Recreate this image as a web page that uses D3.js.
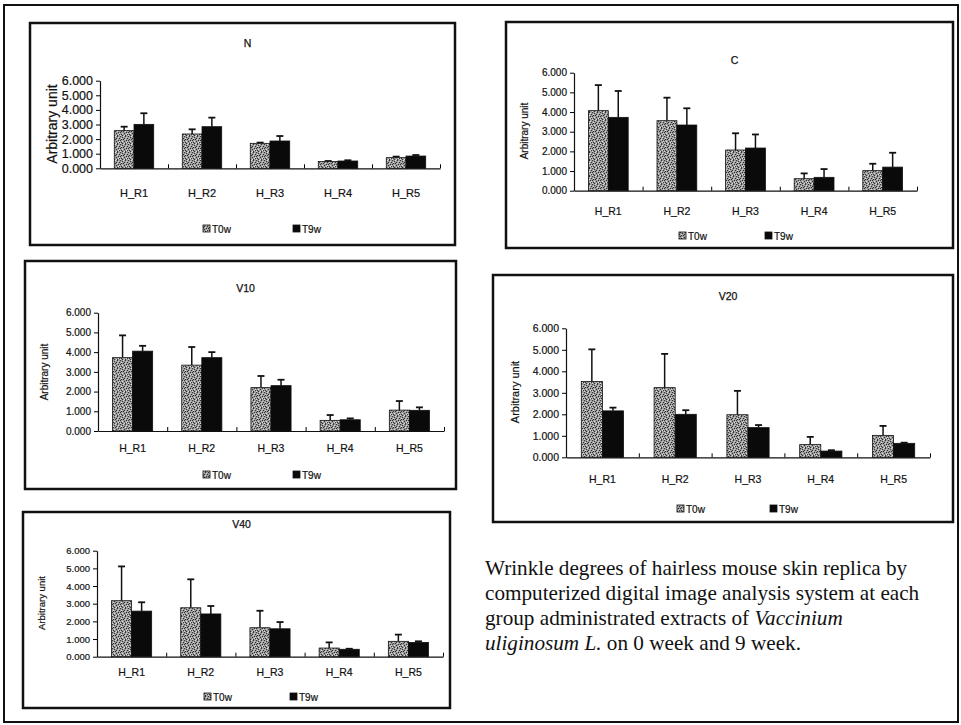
<!DOCTYPE html>
<html>
<head>
<meta charset="utf-8">
<script src="https://cdn.jsdelivr.net/npm/d3@7"></script>
<style>
  body { margin: 0; background: #fff; }
  svg text { font-family: "Liberation Sans", Arial, sans-serif; fill: #111; }
</style>
</head>
<body>
<svg id="fig"></svg>
<script>
// categories and series
var categories = ["H_R1", "H_R2", "H_R3", "H_R4", "H_R5"];
var series = ["T0w", "T9w"];
var yTicks = [0, 1, 2, 3, 4, 5, 6];

// mean values and SD
var nT0 = [2.58, 2.35, 1.71, 0.46, 0.73],   nT0Sd = [0.27, 0.32, 0.05, 0.04, 0.07];
var nT9 = [3.01, 2.85, 1.87, 0.50, 0.84],   nT9Sd = [0.76, 0.62, 0.34, 0.05, 0.07];
var cT0 = [4.07, 3.56, 2.07, 0.61, 1.02],   cT0Sd = [1.30, 1.17, 0.85, 0.27, 0.35];
var cT9 = [3.73, 3.34, 2.17, 0.68, 1.20],   cT9Sd = [1.34, 0.85, 0.69, 0.42, 0.73];
var v10T0 = [3.72, 3.34, 2.20, 0.54, 1.06], v10T0Sd = [1.13, 0.92, 0.59, 0.27, 0.46];
var v10T9 = [4.05, 3.72, 2.30, 0.57, 1.05], v10T9Sd = [0.27, 0.28, 0.30, 0.07, 0.15];
var v20T0 = [3.53, 3.24, 1.98, 0.59, 1.02], v20T0Sd = [1.49, 1.57, 1.11, 0.36, 0.44];
var v20T9 = [2.16, 2.00, 1.38, 0.29, 0.65], v20T9Sd = [0.15, 0.19, 0.12, 0.04, 0.03];
var v40T0 = [3.17, 2.77, 1.64, 0.49, 0.87], v40T0Sd = [1.94, 1.61, 0.96, 0.32, 0.38];
var v40T9 = [2.58, 2.42, 1.58, 0.42, 0.81], v40T9Sd = [0.50, 0.45, 0.38, 0.03, 0.06];

var captionLines = [
  [{t: "Wrinkle degrees of hairless mouse skin replica by"}],
  [{t: "computerized digital image analysis system at each"}],
  [{t: "group administrated extracts of "}, {t: "Vaccinium", i: true}],
  [{t: "uliginosum L.", i: true}, {t: " on 0 week and 9 week."}]
];

var W = 961, H = 725;
var svg = d3.select("#fig").attr("width", W).attr("height", H);

// speckled fill for T0w
var pat = svg.append("defs").append("pattern")
    .attr("id", "stip").attr("width", 8).attr("height", 8)
    .attr("patternUnits", "userSpaceOnUse");
pat.append("rect").attr("width", 8).attr("height", 8).attr("fill", "#9c9c9c");
var darkDots = [[0,0],[5,0],[2,1],[7,2],[4,2],[3,3],[0,4],[6,4],[4,5],[1,6],[7,6],[2,7],[5,7],[1,3]];
var lightDots = [[3,0],[6,1],[1,2],[5,3],[2,5],[7,5],[0,7],[4,7],[6,6]];
darkDots.forEach(function(p) {
  pat.append("rect").attr("x", p[0]).attr("y", p[1]).attr("width", 1).attr("height", 1).attr("fill", "#333");
});
lightDots.forEach(function(p) {
  pat.append("rect").attr("x", p[0]).attr("y", p[1]).attr("width", 1).attr("height", 1).attr("fill", "#d8d8d8");
});

// outer frame
svg.append("rect").attr("x", 4).attr("y", 5).attr("width", 954).attr("height", 717)
   .attr("fill", "none").attr("stroke", "#111").attr("stroke-width", 2);

// panel layout
var panels = [
  {title: "N", t0: nT0, t0sd: nT0Sd, t9: nT9, t9sd: nT9Sd,
   box: [30, 23, 455, 245], px: [100, 440], py: [80.7, 168.3], titleY: 47,
   ytX: 57, ytY: 124, ytSize: 14, tickSize: 12.5, catY: 197, catSize: 11, legY: 229, legX: [203, 293]},
  {title: "C", t0: cT0, t0sd: cT0Sd, t9: cT9, t9sd: cT9Sd,
   box: [506, 22, 953, 248], px: [574, 917], py: [72.7, 190.7], titleY: 64,
   ytX: 528, ytY: 131, ytSize: 10, tickSize: 10, catY: 215, catSize: 10.5, legY: 236, legX: [679, 765]},
  {title: "V10", t0: v10T0, t0sd: v10T0Sd, t9: v10T9, t9sd: v10T9Sd,
   box: [25, 261, 456, 489], px: [98, 444], py: [312.7, 431], titleY: 292,
   ytX: 48, ytY: 372, ytSize: 10, tickSize: 10, catY: 452, catSize: 10.5, legY: 475, legX: [203, 293]},
  {title: "V20", t0: v20T0, t0sd: v20T0Sd, t9: v20T9, t9sd: v20T9Sd,
   box: [493, 275, 953, 522], px: [566, 930], py: [328.3, 457.3], titleY: 300,
   ytX: 519, ytY: 392, ytSize: 11, tickSize: 10.5, catY: 483, catSize: 10.5, legY: 509, legX: [677, 770]},
  {title: "V40", t0: v40T0, t0sd: v40T0Sd, t9: v40T9, t9sd: v40T9Sd,
   box: [23, 512, 450, 708], px: [97, 443], py: [550.7, 656.7], titleY: 528,
   ytX: 45, ytY: 603, ytSize: 9.5, tickSize: 9.5, catY: 676, catSize: 10.5, legY: 697, legX: [204, 290]}
];

panels.forEach(drawPanel);

function drawPanel(p) {
  var g = svg.append("g");
  var b = p.box;
  g.append("rect").attr("x", b[0]).attr("y", b[1])
    .attr("width", b[2] - b[0]).attr("height", b[3] - b[1])
    .attr("fill", "#fff").attr("stroke", "#111").attr("stroke-width", 2.5);

  g.append("text").attr("x", (b[0] + b[2]) / 2 + 5).attr("y", p.titleY)
    .attr("text-anchor", "middle").attr("font-size", 10.5)
    .attr("stroke", "#111").attr("stroke-width", 0.25).text(p.title);

  var x = d3.scaleBand().domain(categories).range(p.px)
      .paddingInner(0.42).paddingOuter(0.21);
  var xs = d3.scaleBand().domain(series).range([0, x.bandwidth()]);
  var y = d3.scaleLinear().domain([0, 6]).range([p.py[1], p.py[0]]);

  // y axis
  var yAxis = d3.axisLeft(y).tickValues(yTicks).tickFormat(d3.format(".3f"))
      .tickSize(4).tickSizeOuter(0).tickPadding(3);
  var ya = g.append("g").attr("transform", "translate(" + p.px[0] + ",0)").call(yAxis);
  ya.selectAll("text").attr("font-size", p.tickSize)
    .attr("stroke", "#111").attr("stroke-width", 0.2)
    .style("font-family", "Liberation Sans Narrow, Liberation Sans, Arial");
  ya.select(".domain").attr("stroke", "#111").attr("stroke-width", 1.2);

  // x axis: ticks at band boundaries
  var xl = d3.scaleLinear().domain([0, categories.length]).range(p.px);
  var xAxis = d3.axisBottom(xl).tickValues([1, 2, 3, 4, 5]).tickFormat("")
      .tickSize(-4).tickSizeOuter(0);
  var xa = g.append("g").attr("transform", "translate(0," + p.py[1] + ")").call(xAxis);
  xa.select(".domain").attr("stroke", "#111").attr("stroke-width", 1.2);

  // category labels
  g.selectAll(".cat").data(categories).enter().append("text")
    .attr("x", function(d) { return x(d) + x.bandwidth() / 2; })
    .attr("y", p.catY).attr("text-anchor", "middle")
    .attr("font-size", p.catSize)
    .attr("stroke", "#111").attr("stroke-width", 0.2)
    .style("font-family", "Liberation Sans Narrow, Liberation Sans, Arial")
    .text(function(d) { return d; });

  // y title
  g.append("text")
    .attr("transform", "translate(" + p.ytX + "," + p.ytY + ") rotate(-90)")
    .attr("text-anchor", "middle").attr("font-size", p.ytSize)
    .attr("stroke", "#111").attr("stroke-width", 0.2)
    .text("Arbitrary unit");

  var rows = [
    {key: "T0w", v: p.t0, sd: p.t0sd, fill: "url(#stip)"},
    {key: "T9w", v: p.t9, sd: p.t9sd, fill: "#0a0a0a"}
  ];
  rows.forEach(function(r) {
    var data = categories.map(function(c, i) { return {c: c, v: r.v[i], sd: r.sd[i]}; });
    var cx = function(d) { return x(d.c) + xs(r.key) + xs.bandwidth() / 2; };
    // error bars (upper only)
    g.selectAll(".err" + r.key).data(data).enter().append("line")
      .attr("x1", cx).attr("x2", cx)
      .attr("y1", function(d) { return y(d.v); })
      .attr("y2", function(d) { return y(d.v + d.sd); })
      .attr("stroke", "#111").attr("stroke-width", 1.5);
    g.selectAll(".cap" + r.key).data(data).enter().append("line")
      .attr("x1", function(d) { return cx(d) - 3.5; })
      .attr("x2", function(d) { return cx(d) + 3.5; })
      .attr("y1", function(d) { return y(d.v + d.sd); })
      .attr("y2", function(d) { return y(d.v + d.sd); })
      .attr("stroke", "#111").attr("stroke-width", 1.8);
    g.selectAll(".bar" + r.key).data(data).enter().append("rect")
      .attr("x", function(d) { return x(d.c) + xs(r.key); })
      .attr("y", function(d) { return y(d.v); })
      .attr("width", xs.bandwidth())
      .attr("height", function(d) { return y(0) - y(d.v); })
      .attr("fill", r.fill).attr("stroke", "#111").attr("stroke-width", 0.8);
  });

  // legend
  series.forEach(function(s, i) {
    var lx = p.legX[i];
    g.append("rect").attr("x", lx).attr("y", p.legY - 4).attr("width", 7).attr("height", 7)
      .attr("fill", i === 0 ? "url(#stip)" : "#0a0a0a").attr("stroke", "#111").attr("stroke-width", 0.8);
    g.append("text").attr("x", lx + 9).attr("y", p.legY + 3.5)
      .attr("font-size", 10).attr("stroke", "#111").attr("stroke-width", 0.2).text(s);
  });
}

// caption
var cap = svg.append("text").attr("x", 485).attr("y", 575)
    .style("font-family", "Liberation Serif, Times New Roman, serif")
    .attr("font-size", 21.2);
captionLines.forEach(function(line, li) {
  line.forEach(function(seg, si) {
    var ts = cap.append("tspan").text(seg.t)
      .style("font-family", "Liberation Serif, Times New Roman, serif");
    if (si === 0) ts.attr("x", 485).attr("y", 575 + li * 25);
    if (seg.i) ts.attr("font-style", "italic");
  });
});
</script>
</body>
</html>
